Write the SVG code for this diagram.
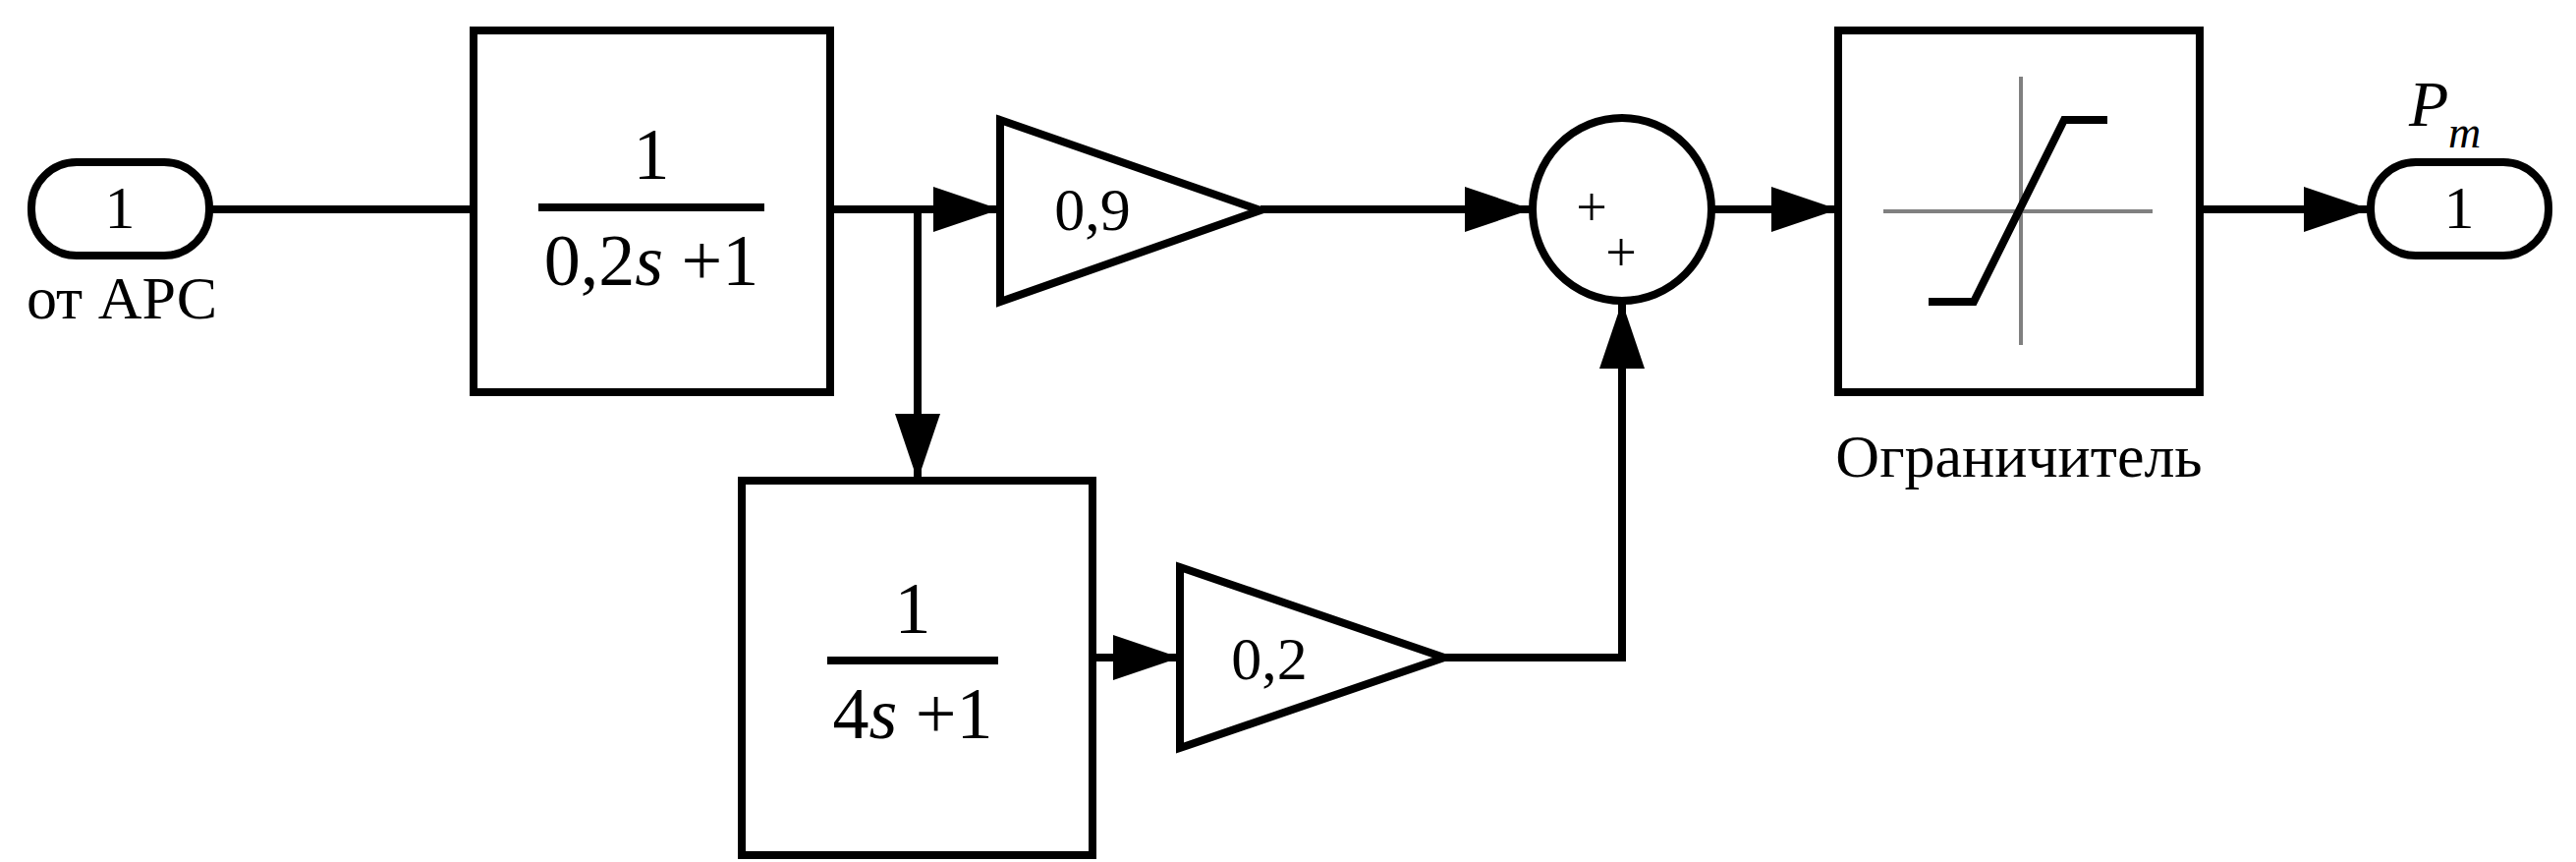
<svg xmlns="http://www.w3.org/2000/svg" width="2622" height="877" viewBox="0 0 2622 877">
<style>
.s{fill:none;stroke:#000;stroke-width:8}
.w{fill:#fff;stroke:#000;stroke-width:8}
.t{font-family:"Liberation Serif",serif;fill:#000}
.g{stroke:#808080;stroke-width:4}
</style>
<defs>
<marker id="a" markerUnits="userSpaceOnUse" markerWidth="68" markerHeight="46" refX="66" refY="23" orient="auto"><path d="M0,0L68,23L0,46Z" fill="#000"/></marker>
</defs>
<g id="connectors" class="s">
<path d="M213,213H482"/>
<path d="M845,213H1016" marker-end="url(#a)"/>
<path d="M934,213V487" marker-end="url(#a)"/>
<path d="M1283,213H1557" marker-end="url(#a)"/>
<path d="M1112,669H1199" marker-end="url(#a)"/>
<path d="M1470,669H1651V309" marker-end="url(#a)"/>
<path d="M1742,213H1869" marker-end="url(#a)"/>
<path d="M2239,213H2411" marker-end="url(#a)"/>
</g>
<g id="in1"><rect class="w" x="32" y="165" width="181" height="95" rx="46"/><text class="t" x="122" y="232" font-size="62" text-anchor="middle">1</text><text class="t" x="124" y="324" font-size="62" text-anchor="middle">от АРС</text></g>
<g id="tf1"><rect class="w" x="482" y="31" width="363" height="368"/><path class="s" d="M548,211H778" stroke-width="5"/><text class="t" x="663" y="182" font-size="74" text-anchor="middle">1</text><text class="t" x="663" y="290" font-size="74" text-anchor="middle">0,2<tspan font-style="italic">s</tspan> +1</text></g>
<g id="gain1"><path class="w" d="M1018,122L1283,214L1018,307Z"/><text class="t" x="1112" y="234" font-size="62" text-anchor="middle">0,9</text></g>
<g id="tf2"><rect class="w" x="755" y="489" width="357" height="381"/><path class="s" d="M842,672H1016" stroke-width="5"/><text class="t" x="929" y="644" font-size="74" text-anchor="middle">1</text><text class="t" x="929" y="751" font-size="74" text-anchor="middle">4<tspan font-style="italic">s</tspan> +1</text></g>
<g id="gain2"><path class="w" d="M1201,577L1470,669L1201,761Z"/><text class="t" x="1292" y="691" font-size="62" text-anchor="middle">0,2</text></g>
<g id="sum"><ellipse class="w" cx="1651" cy="213" rx="91" ry="93"/><text class="t" x="1620" y="230" font-size="56" text-anchor="middle">+</text><text class="t" x="1650" y="276" font-size="56" text-anchor="middle">+</text></g>
<g id="sat"><rect class="w" x="1871" y="31" width="368" height="368"/><path class="g" d="M2057,78V351M1917,215H2191"/><path class="s" d="M1963,307H2009L2101,122H2145"/><text class="t" x="2055" y="485" font-size="62" text-anchor="middle">Ограничитель</text></g>
<g id="out1"><rect class="w" x="2413" y="165" width="181" height="95" rx="46"/><text class="t" x="2503" y="232" font-size="62" text-anchor="middle">1</text><text class="t" x="2452" y="128" font-size="66" font-style="italic">P</text><text class="t" x="2492" y="150" font-size="46" font-style="italic">m</text></g>
</svg>
